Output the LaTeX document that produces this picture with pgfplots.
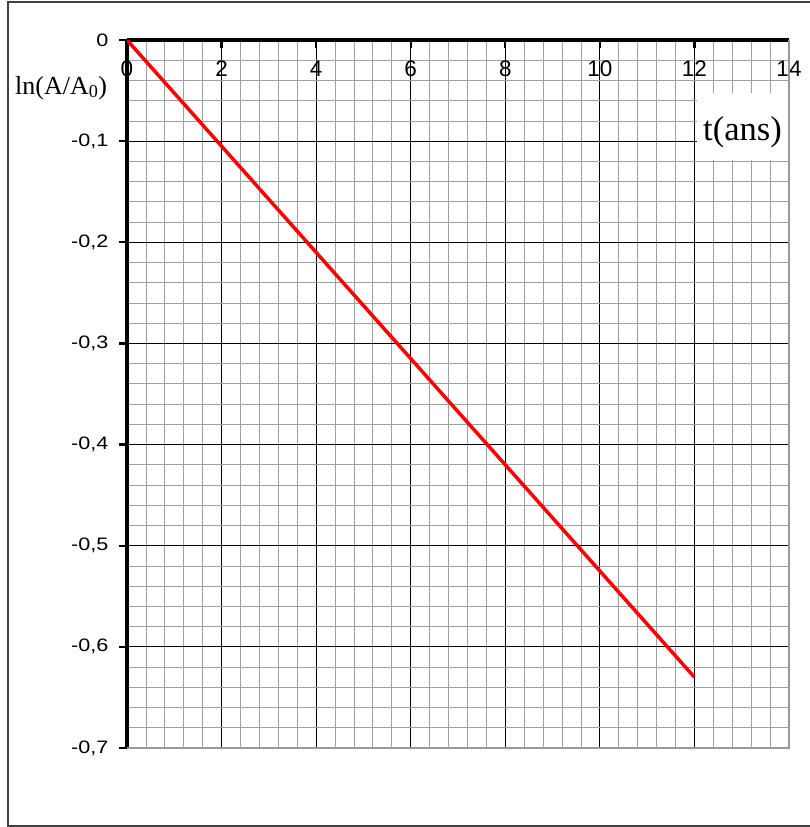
\documentclass[border=0pt]{standalone}
\usepackage{fontspec}
\setmainfont{Liberation Sans}
\newfontfamily\tnr{Liberation Serif}
\usepackage{graphicx}
\usepackage{pgfplots}
\pgfplotsset{compat=1.18}
\newcommand\sy[1]{\scalebox{1.2}[1]{#1}}
\begin{document}
\begin{tikzpicture}
\path[use as bounding box] (0pt,0pt) rectangle (810pt,827pt);
\draw[line width=1.3pt, black!75] (810pt,825pt) -- (8pt,825pt) -- (8pt,1pt) -- (810pt,1pt);
\begin{axis}[at={(127pt,79pt)}, anchor=south west, scale only axis,
  width=662pt, height=708pt,
  xmin=0, xmax=14, ymin=-0.7, ymax=0,
  axis x line*=top, axis y line*=left,
  axis line style={line width=3.5pt, black, -},
  xtick={0,2,...,14}, ytick={-0.7,-0.6,...,0},
  xticklabels={0,2,4,6,8,10,12,14},
  yticklabels={{\sy{-0,7}},{\sy{-0,6}},{\sy{-0,5}},{\sy{-0,4}},{\sy{-0,3}},{\sy{-0,2}},{\sy{-0,1}},\sy{0}},
  minor x tick num=4, minor y tick num=4,
  grid=both,
  major grid style={black, line width=0.8pt},
  minor grid style={gray!75, line width=0.8pt},
  tick align=outside,
  major tick length=8pt, minor tick length=0pt,
  tick style={black, line width=2.2pt},
  x tick style={yshift=-8pt},
  xticklabel style={font=\fontsize{22.5}{24}\selectfont, anchor=center, yshift=-37pt},
  yticklabel style={font=\fontsize{18}{20}\selectfont, xshift=-7pt},
]
\addplot[red, line width=3.5pt] coordinates {(0,0) (12,-0.63)};
\end{axis}
\draw[gray!80, line width=2pt] (789pt,787pt) -- (789pt,79pt) -- (127pt,79pt);
\fill[white] (697pt,667pt) rectangle (788pt,734pt);
\node at (742.5pt,695pt) {\tnr\fontsize{34.5}{38}\selectfont t(ans)};
\node[anchor=west, inner sep=0pt] at (15pt,739pt) {\tnr\fontsize{26}{30}\selectfont ln(A/A\textsubscript{0})};
\end{tikzpicture}
\end{document}
